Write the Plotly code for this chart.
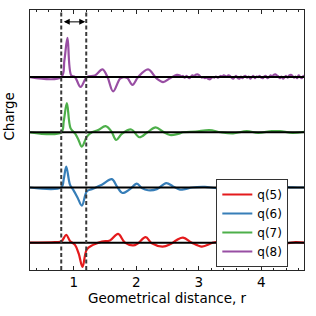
import numpy as np
import plotly.graph_objects as go

# ---- data ----
r_q5 = [0.30, 0.70, 0.80, 0.88, 0.94, 1.02, 1.08, 1.14, 1.21, 1.31, 1.45, 1.58, 1.71, 1.82,
        1.95, 2.03, 2.15, 2.25, 2.42, 2.54, 2.65, 2.75, 2.89, 3.05, 3.23, 3.40, 3.60, 3.80,
        4.00, 4.20, 4.40, 4.55, 4.70]
v_q5 = [0.00, 0.01, 0.02, 0.14, 0.03, -0.04, -0.20, -0.44, -0.12, -0.04, 0.02, 0.04, 0.16, 0.00,
        -0.05, -0.01, 0.10, -0.01, -0.07, -0.03, 0.05, 0.09, 0.00, -0.07, 0.00, 0.03, -0.02, 0.02,
        -0.01, 0.02, -0.01, 0.01, 0.00]

r_q6 = [0.30, 0.80, 0.84, 0.88, 0.94, 0.99, 1.06, 1.13, 1.21, 1.29, 1.45, 1.61, 1.69, 1.78,
        1.90, 2.01, 2.09, 2.19, 2.33, 2.48, 2.59, 2.70, 2.78, 2.90, 3.10, 3.30, 3.50, 3.70,
        3.90, 4.10, 4.30, 4.50, 4.70]
v_q6 = [0.00, 0.00, 0.15, 0.38, 0.05, -0.04, -0.18, -0.33, -0.07, -0.03, 0.05, 0.15, 0.02, -0.10,
        -0.03, 0.07, -0.01, -0.05, -0.03, 0.08, 0.02, -0.04, -0.03, 0.00, 0.01, -0.01, 0.02, -0.01,
        0.01, -0.01, 0.01, 0.00, 0.00]

r_q7 = [0.30, 0.80, 0.84, 0.89, 0.95, 1.02, 1.07, 1.13, 1.21, 1.29, 1.39, 1.51, 1.60, 1.68,
        1.77, 1.92, 2.05, 2.18, 2.31, 2.43, 2.54, 2.67, 2.75, 2.95, 3.17, 3.35, 3.55, 3.77,
        3.95, 4.17, 4.30, 4.50, 4.70]
v_q7 = [0.00, 0.00, 0.20, 0.53, 0.07, -0.02, -0.12, -0.26, -0.08, 0.00, 0.04, 0.11, 0.02, -0.14,
        -0.03, 0.05, -0.09, 0.00, 0.09, 0.01, -0.05, -0.03, 0.00, 0.01, 0.04, 0.00, -0.02, 0.02,
        -0.01, 0.02, 0.02, -0.01, 0.01]

r_q8_smooth = [0.30, 0.80, 0.85, 0.90, 0.96, 1.02, 1.11, 1.21, 1.34, 1.46, 1.54, 1.63, 1.74,
               1.80, 1.86, 1.94, 2.03, 2.19, 2.33, 2.43, 2.54, 2.65]
v_q8_smooth = [0.00, 0.00, 0.30, 0.71, 0.03, 0.00, -0.18, 0.00, 0.03, 0.14, 0.00, -0.26, -0.03,
               0.00, -0.02, -0.14, 0.00, 0.14, -0.03, -0.09, -0.02, 0.04]
v_q8_tail = [0.03, 0.01, 0.02, -0.01, 0.02, 0.00, -0.02, 0.01, 0.03, 0.02, 0.04, 0.05, 0.04, 0.01,
             -0.01, 0.00, -0.02, -0.01, -0.03, -0.04, -0.02, 0.00, -0.01, 0.01, -0.01, 0.00, 0.02,
             0.01, 0.03, 0.02, 0.01, 0.03, 0.02, -0.01, -0.03, 0.00, 0.02, -0.02, -0.03, 0.01,
             -0.02, 0.01, 0.02, -0.01, 0.01, -0.03, 0.00, 0.02, -0.02, 0.01, 0.00, 0.02, -0.01,
             -0.02, 0.01, 0.02, -0.02, 0.00, 0.03, 0.01, 0.04, 0.05, 0.03, 0.01, -0.02, 0.01,
             -0.03, 0.00, 0.02, -0.01, 0.03, 0.04, 0.02, -0.01, 0.01, -0.02, 0.03, 0.00, -0.02,
             0.02, 0.01]
r_q8_tail = list(np.round(np.linspace(2.70, 4.70, len(v_q8_tail)), 3))
r_q8 = r_q8_smooth + r_q8_tail
v_q8 = v_q8_smooth + v_q8_tail

series = [("q(5)", r_q5, v_q5, "#e41a1c"),
          ("q(6)", r_q6, v_q6, "#377eb8"),
          ("q(7)", r_q7, v_q7, "#4daf4a"),
          ("q(8)", r_q8, v_q8, "#984ea3")]
x_ticks = [1, 2, 3, 4]
window = [0.8, 1.2]

FONT = "DejaVu Sans"
fig = go.Figure()
for k, (name, r, v, col) in enumerate(series):
    fig.add_trace(go.Scatter(x=r, y=[val + k for val in v], mode="lines", name=name,
                             line=dict(color=col, width=2.2, shape="spline", smoothing=1.0)))
for k in range(len(series)):
    fig.add_trace(go.Scatter(x=[0.3, 4.7], y=[k, k], mode="lines", showlegend=False,
                             line=dict(color="black", width=2), hoverinfo="skip"))

for xv in window:
    fig.add_shape(type="line", xref="x", yref="paper", x0=xv, x1=xv, y0=0, y1=1,
                  line=dict(color="#3a3a3a", width=2, dash="4px,2.5px"))

fig.add_annotation(x=window[1], y=4.0, ax=window[0], ay=4.0, xref="x", yref="y",
                   axref="x", ayref="y", text="", showarrow=True, arrowhead=2,
                   arrowside="end+start", arrowwidth=1, arrowsize=1.2, arrowcolor="black",
                   standoff=1, startstandoff=1)

fig.add_annotation(text="Charge", textangle=-90, xref="paper", yref="paper", x=0, y=0.59,
                   xanchor="right", yanchor="middle", xshift=-11, showarrow=False,
                   font=dict(family=FONT, size=13.5, color="black"))

fig.update_xaxes(range=[0.3, 4.685], tickvals=x_ticks, ticks="inside", ticklen=4, tickwidth=1,
                 tickcolor="#262626", showline=True, linecolor="#262626", linewidth=1,
                 mirror="ticks", showgrid=False, zeroline=False,
                 minor=dict(dtick=0.2, tick0=0, ticks="inside", ticklen=2, tickcolor="#262626",
                            showgrid=False),
                 tickfont=dict(family=FONT, size=13.5, color="black"),
                 title=dict(text="Geometrical distance, r", standoff=3,
                            font=dict(family=FONT, size=13.5, color="black")))
fig.update_yaxes(range=[-0.495, 4.215], showticklabels=False, ticks="", showline=True,
                 linecolor="#262626", linewidth=1, mirror=True, showgrid=False, zeroline=False)

fig.update_layout(width=316, height=316, margin=dict(l=30, r=12, t=10, b=46),
                  plot_bgcolor="white", paper_bgcolor="white",
                  font=dict(family=FONT, size=12, color="black"),
                  legend=dict(x=0.68, y=0.35, xanchor="left", yanchor="top",
                              bgcolor="white", bordercolor="#333333", borderwidth=1,
                              font=dict(family=FONT, size=12), itemwidth=30,
                              tracegroupgap=0),
                  showlegend=True)

fig.write_html("out.html", config={"displayModeBar": False},
               post_script="document.body.style.margin='0';")
